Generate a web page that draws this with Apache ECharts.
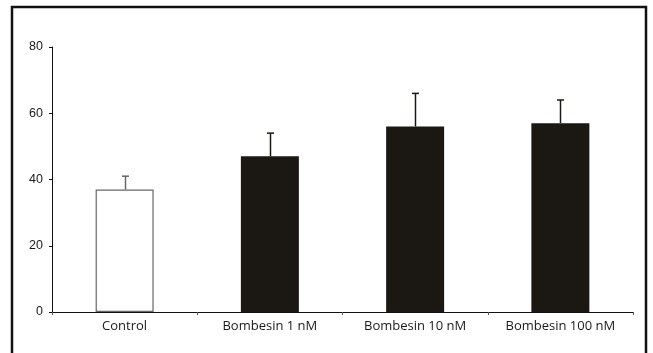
<!DOCTYPE html>
<html><head><meta charset="utf-8">
<script src="https://cdn.jsdelivr.net/npm/echarts@6/dist/echarts.min.js"></script>
<style>html,body{margin:0;padding:0;background:#fff}#c{width:653px;height:353px}</style>
</head><body><div id="c"></div>
<script>
const categories = ['Control', 'Bombesin 1 nM', 'Bombesin 10 nM', 'Bombesin 100 nM'];
const means = [37, 47, 56, 57];
const errors = [4, 7, 10, 7];
const yTicks = [0, 20, 40, 60, 80];
const barColors = ['#ffffff', '#1b1813', '#1b1813', '#1b1813'];

const chart = echarts.init(document.getElementById('c'), null, {renderer: 'canvas'});
chart.setOption({
  animation: false,
  backgroundColor: '#fff',
  grid: {left: 52, right: 20, top: 47, bottom: 41},
  graphic: [{type: 'rect', shape: {x: 12, y: 7, width: 634, height: 360},
    style: {fill: 'none', stroke: '#111', lineWidth: 2.5}, silent: true}],
  xAxis: {
    type: 'category', data: categories,
    axisLine: {lineStyle: {color: '#111', width: 1}},
    axisTick: {show: true, length: 3, lineStyle: {color: '#555'}},
    axisLabel: {color: '#1a1a1a', fontFamily: 'Open Sans', fontSize: 13, margin: 8}
  },
  yAxis: {
    type: 'value', min: yTicks[0], max: yTicks[yTicks.length - 1], interval: 20,
    splitLine: {show: false},
    axisLine: {show: true, lineStyle: {color: '#111', width: 1}},
    axisTick: {show: true, length: 3, lineStyle: {color: '#111'}},
    axisLabel: {color: '#1a1a1a', fontFamily: 'Liberation Sans', fontSize: 12.5, margin: 9}
  },
  series: [{
    type: 'bar', barWidth: 58,
    data: means.map((v, i) => ({value: v, itemStyle: {color: barColors[i],
      borderColor: i === 0 ? '#666' : barColors[i], borderWidth: i === 0 ? 1.2 : 0}})),
    z: 2
  }, {
    type: 'custom', z: 3,
    data: means.map((v, i) => [i, v, v + errors[i]]),
    renderItem: function (params, api) {
      const i = api.value(0);
      const p0 = api.coord([i, api.value(1)]);
      const p1 = api.coord([i, api.value(2)]);
      const col = i === 0 ? '#666' : '#1b1813';
      const x = Math.round(p0[0]) + 0.5;
      return {type: 'group', children: [
        {type: 'line', shape: {x1: x, y1: p0[1], x2: x, y2: p1[1]}, style: {stroke: col, lineWidth: 1.5}},
        {type: 'line', shape: {x1: x - 3.5, y1: p1[1], x2: x + 3.5, y2: p1[1]}, style: {stroke: col, lineWidth: 1.5}}
      ]};
    }
  }]
});
</script></body></html>
